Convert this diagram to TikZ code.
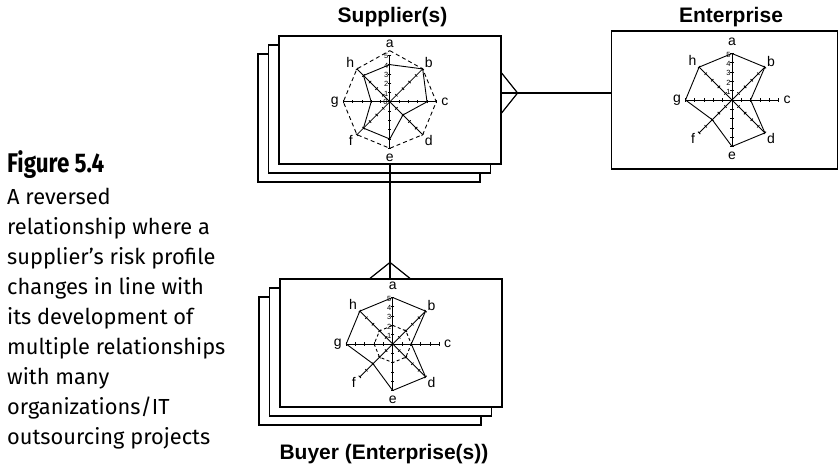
\documentclass[tikz,border=0pt]{standalone}
\usepackage{fontspec}
\setmainfont{Liberation Sans}
\newfontfamily\capfont{Fira Sans}
\newfontfamily\figfont[FakeStretch=0.83]{Fira Sans}
\usetikzlibrary{shadows}
\newcommand\runit{9.3pt}

\tikzset{
  card/.style={draw, fill=white, line width=1.2pt, inner sep=0pt,
    minimum width=222pt, minimum height=128pt},
  stack/.style={double copy shadow={shadow xshift=-10.5pt, shadow yshift=-9pt}},
  link/.style={line width=1.2pt},
  spoke/.style={line width=0.8pt},
  prof/.style={line width=0.9pt, line join=round},
  axlbl/.style={font=\fontsize{14}{16}\selectfont, inner sep=0pt},
  num/.style={font=\fontsize{7.5}{8}\selectfont, inner sep=0pt, anchor=east},
  ttl/.style={font=\bfseries\fontsize{21}{24}\selectfont, anchor=base, inner sep=0pt},
  figlbl/.style={font=\figfont\bfseries\fontsize{27}{30}\selectfont, anchor=base west, inner sep=0pt},
  captxt/.style={font=\capfont\fontsize{21.8}{26}\selectfont, anchor=base west, inner sep=0pt},
  radar/.pic={
    \foreach \ang/\lab/\r in {90/a/58,45/b/55,0/c/55,-45/d/55,-90/e/56,-135/f/55,180/g/55,135/h/56}{
      \draw[spoke] (0,0) -- (\ang:{5*\runit});
      \foreach \k in {1,...,5}
        \draw[spoke, shift={(\ang:{\k*\runit})}, rotate=\ang] (0,-1.6pt) -- (0,1.6pt);
      \node[axlbl] (-\lab) at (\ang:\r pt) {\lab};
    }
    \foreach \k in {1,...,5}
      \node[num] (-n\k) at (-1.2pt,{\k*\runit-1pt}) {\k};
  }
}

\begin{document}
\begin{tikzpicture}[x=1pt,y=-1pt]
\useasboundingbox (0,0) rectangle (839,466);

% cards
\node[card, stack] (sup) at (390,100) {};
\node[card, stack] (buy) at (391,343) {};
\node[card, minimum width=226pt, minimum height=138pt] (ent) at (724.7,100) {};

% titles
\node[ttl] (tsup) at (392.5,22) {Supplier(s)};
\node[ttl] (tent) at (731,22) {Enterprise};
\node[ttl] (tbuy) at (384,459) {Buyer (Enterprise(s))};

% connectors with crow's feet
\draw[link] ([yshift=7pt]sup.east) -- ([yshift=7pt]ent.west);
\draw[link] ([yshift=27pt]sup.east) -- ([xshift=16pt,yshift=7pt]sup.east) -- ([yshift=-13pt]sup.east);
\coordinate (ft) at (sup.south |- buy.north);
\draw[link] (sup.south) -- (ft);
\draw[link] ([xshift=-20pt]ft) -- ([yshift=16pt]ft) -- ([xshift=20pt]ft);

% radar centres
\coordinate (sc) at (389.8,101.8);
\coordinate (ec) at (732,100);
\coordinate (bc) at (392.7,344);

% supplier profile
\pic (sr) at (sc) {radar};
\node[num] (sr-n0) at ([xshift=-2pt]sc) {0};
\begin{scope}[shift={(sc)}]
  \draw[prof, dash pattern=on 4pt off 3pt] (90:{5.5*\runit}) \foreach \i in {1,...,7}{ -- ({90-45*\i}:{5*\runit}) } -- cycle;
  \draw[prof] (90:{4*\runit}) \foreach \v [count=\i] in {5,4,2,4,4,2,4}{ -- ({90-45*\i}:{\v*\runit}) } -- cycle;
\end{scope}

% enterprise profile
\pic (er) at (ec) {radar};
\begin{scope}[shift={(ec)}]
  \draw[prof] (90:{5*\runit}) \foreach \v [count=\i] in {5,2,5,5,3,5,5}{ -- ({90-45*\i}:{\v*\runit}) } -- cycle;
\end{scope}

% buyer profile
\pic (br) at (bc) {radar};
\begin{scope}[shift={(bc)}]
  \draw[prof, dash pattern=on 3pt off 2.5pt] (90:{2*\runit}) \foreach \i in {1,...,7}{ -- ({90-45*\i}:{2*\runit}) } -- cycle;
  \draw[prof] (90:{5*\runit}) \foreach \v [count=\i] in {5,2,5,5,3,5,5}{ -- ({90-45*\i}:{\v*\runit}) } -- cycle;
\end{scope}

% caption
\node[figlbl] (fig) at (7,172.7) {Figure 5.4};
\foreach \t [count=\i] in {A reversed, relationship where a, supplier’s risk profile,
    changes in line with, its development of, multiple relationships,
    with many, organizations/IT, outsourcing projects}
  \node[captxt] (cap\i) at (7,{174+30*\i}) {\t};
\end{tikzpicture}
\end{document}
